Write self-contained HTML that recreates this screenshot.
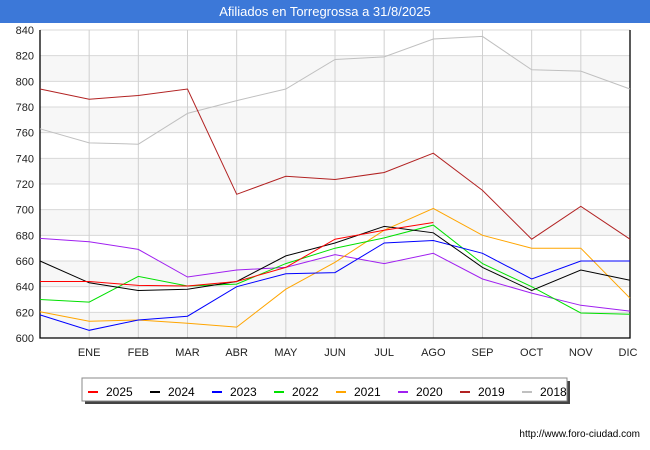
<!DOCTYPE html>
<html><head><meta charset="utf-8"><style>
body{margin:0;width:650px;height:450px;background:#fff;font-family:"Liberation Sans","DejaVu Sans",sans-serif;overflow:hidden}
#title{position:absolute;left:0;top:0;width:650px;height:23px;background:#3c78d8;color:#fff;font-size:13px;line-height:23px;text-align:center}
</style></head><body>
<div id="title">Afiliados en Torregrossa a 31/8/2025</div>
<svg id="c" width="650" height="450" style="position:absolute;left:0;top:0"></svg>
<script>
const months=["","ENE","FEB","MAR","ABR","MAY","JUN","JUL","AGO","SEP","OCT","NOV","DIC"];
const yTicks=[600,620,640,660,680,700,720,740,760,780,800,820,840];
const seriesNames=["2025","2024","2023","2022","2021","2020","2019","2018"];
const seriesColors=["#ff0000","#000000","#0000ff","#00e000","#ffa500","#a020f0","#b22222","#c0c0c0"];
const s2025=[644,644,641,640.5,644,655,677,684,690];
const s2024=[660,643,637,638,644,664,674,687,682,655,637,653,645];
const s2023=[618,606,614,617,640,650,651,674,676,666,646,660,660];
const s2022=[630,628,648,640.5,642,658,670,678,688,658,640,619.5,618.5];
const s2021=[620.5,613,614,611.5,608.5,638,659,684,701,680,670,670,631];
const s2020=[677.6,675,669,647.5,653,655,665,658,666,646,635,625.5,621];
const s2019=[794,786,789,794,712,726,723.5,729,744,715,677,702.6,677];
const s2018=[763,752,751,775,785,794,817,819,833,835,809,808,794];
const allSeries=[s2025,s2024,s2023,s2022,s2021,s2020,s2019,s2018];
const L=40,R=630,T=30,B=338,YMIN=600,YMAX=840;
const xS=i=>L+i*(R-L)/12;
const yS=v=>B-(v-YMIN)/(YMAX-YMIN)*(B-T);
const svg=document.getElementById('c');const NS="http://www.w3.org/2000/svg";
function mk(t,a,p){const e=document.createElementNS(NS,t);for(const k in a)e.setAttribute(k,a[k]);(p||svg).appendChild(e);return e;}
for(let i=0;i<yTicks.length-1;i++){
 if(i%2===0){const r=mk('rect',{x:L,y:yS(yTicks[i+1]),width:R-L,height:yS(yTicks[i])-yS(yTicks[i+1]),fill:'#f7f7f7'});
 
 }
}
yTicks.forEach(v=>{
 const g=mk('line',{x1:L,x2:R,y1:yS(v),y2:yS(v),stroke:'#d8d8d8','stroke-width':1});
 
 
 const t=mk('text',{x:L-6,y:yS(v)+4,'text-anchor':'end','font-size':11,fill:'#222'});t.textContent=v;
 
 
});
months.forEach((m,i)=>{
 if(i>0){const g=mk('line',{x1:xS(i),x2:xS(i),y1:T,y2:B,stroke:'#d0d0d0','stroke-width':1});
 
 }
 const t=mk('text',{x:xS(i)-(i===12?2:0),y:356,'text-anchor':'middle','font-size':11,fill:'#222'});t.textContent=m;
 
 
});
const ax=mk('path',{d:`M${L} ${T}V${B}H${R}V${T}`,fill:'none',stroke:'#000','stroke-width':1.3});


for(let k=allSeries.length-1;k>=0;k--){
 const d=allSeries[k].map((v,i)=>(i?'L':'M')+xS(i).toFixed(1)+' '+yS(v).toFixed(1)).join('');
 const p=mk('path',{d:d,fill:'none',stroke:seriesColors[k],'stroke-width':1});
 
 
}
const lg=mk('g',{});


mk('rect',{x:85,y:381,width:485,height:23,fill:'#444'},lg);
mk('rect',{x:82,y:378,width:485,height:23,fill:'#fff',stroke:'#888'},lg);
seriesNames.forEach((n,k)=>{
 const x0=88+k*62;
 const e=mk('g',{},lg);
 
 
 mk('line',{x1:x0,x2:x0+10,y1:392,y2:392,stroke:seriesColors[k],'stroke-width':2},e);
 const t=mk('text',{x:x0+18,y:396,'font-size':12,fill:'#000'},e);t.textContent=n;
});
const u=mk('text',{x:640,y:437,'text-anchor':'end','font-size':10,fill:'#000'});u.textContent='http://www.foro-ciudad.com';


</script>
</body></html>
